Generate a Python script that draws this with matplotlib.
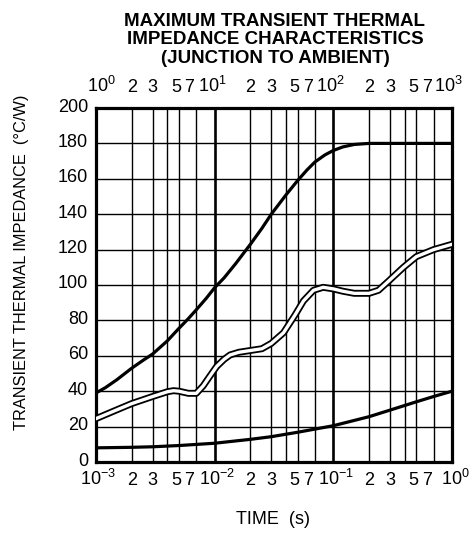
import numpy as np
import matplotlib
matplotlib.use("Agg")
import matplotlib.pyplot as plt
import matplotlib.transforms as mtransforms

plt.rcParams['font.family'] = ['Liberation Sans', 'DejaVu Sans']
plt.rcParams['mathtext.fontset'] = 'custom'
plt.rcParams['mathtext.rm'] = 'Liberation Sans'
plt.rcParams['mathtext.it'] = 'Liberation Sans'

# ---- data ----
upper_t = [1e-3, 1.2e-3, 1.5e-3, 2e-3, 2.5e-3, 3e-3, 4e-3, 5e-3, 6e-3, 7e-3, 8.5e-3,
           1e-2, 1.2e-2, 1.5e-2, 2e-2, 2.5e-2, 3e-2, 4e-2, 5e-2, 6e-2, 7e-2, 8.5e-2,
           1e-1, 1.2e-1, 1.5e-1, 2e-1, 3e-1, 5e-1, 1.0]
upper_z = [39, 42, 46.5, 53, 57.5, 61, 68.5, 75.5, 81, 86, 92.5,
           98.5, 104, 112, 123, 132, 140, 151, 159, 165, 169.5, 173.5,
           176, 178, 179.4, 180, 180, 180, 180]

middle_t = [1e-3, 1.5e-3, 2e-3, 3e-3, 4e-3, 4.5e-3, 5e-3, 6e-3, 7e-3, 8e-3, 9e-3,
            1.04e-2, 1.2e-2, 1.35e-2, 1.6e-2, 2e-2, 2.5e-2, 3e-2, 3.8e-2, 4.75e-2,
            5.6e-2, 6.8e-2, 8.2e-2, 1e-1, 1.2e-1, 1.5e-1, 2e-1, 2.4e-1, 2.9e-1,
            3.9e-1, 5e-1, 7e-1, 1.0]
middle_z = [24.5, 29.5, 33, 37, 39.7, 40.3, 40, 38.8, 38.8, 43, 48,
            54, 58, 60.5, 62, 63, 64, 67, 73, 83,
            91, 97, 98.7, 97.8, 96.5, 95.3, 95.3, 97, 102,
            110, 116, 120, 123]

lower_t = [1e-3, 2e-3, 3e-3, 5e-3, 1e-2, 2e-2, 3e-2, 5e-2, 1e-1, 2e-1, 3e-1, 5e-1, 7e-1, 1.0]
lower_z = [8, 8.3, 8.6, 9.3, 10.6, 12.8, 14.3, 16.8, 20.5, 25.6, 29.3, 34, 37, 40]

grid_mult = [2, 3, 4, 5, 7]
label_mult = [2, 3, 5, 7]
bottom_decades = [-3, -2, -1, 0]
top_decades = [0, 1, 2, 3]
y_ticks = [0, 20, 40, 60, 80, 100, 120, 140, 160, 180, 200]

# ---- figure ----
W, H = 477, 535
fig = plt.figure(figsize=(W/100, H/100), dpi=100)
ax = fig.add_axes([96/W, 1-462/H, (452-96)/W, (462-108)/H])
ax.set_xscale('log')
ax.set_xlim(1e-3, 1.0)
ax.set_ylim(0, 200)

# grid
for d in bottom_decades[:-1]:
    for m in grid_mult:
        ax.axvline(m * 10.0**d, color='black', lw=1.0, zorder=1)
for d in bottom_decades[1:-1]:
    ax.axvline(10.0**d, color='black', lw=1.9, zorder=1)
for y in y_ticks[1:-1]:
    ax.axhline(y, color='black', lw=1.0, zorder=1)

# curves
ax.plot(upper_t, upper_z, color='black', lw=2.3, zorder=3, solid_joinstyle='round')
ax.plot(lower_t, lower_z, color='black', lw=2.3, zorder=3, solid_joinstyle='round')
ax.plot(middle_t, middle_z, color='black', lw=5.0, zorder=3, solid_joinstyle='round')
ax.plot(middle_t, middle_z, color='white', lw=2.4, zorder=4, solid_joinstyle='round')

ax.set_xticks([])
ax.set_yticks([])
ax.xaxis.set_minor_locator(matplotlib.ticker.NullLocator())
ax.yaxis.set_minor_locator(matplotlib.ticker.NullLocator())
for s in ax.spines.values():
    s.set_linewidth(2.3)

# y tick labels
ytr = mtransforms.offset_copy(ax.get_yaxis_transform(), fig=fig, x=-8, y=1, units='dots')
for v in y_ticks:
    ax.text(0, v, str(v), transform=ytr, ha='right', va='center', fontsize=13, clip_on=False)

# x tick labels (bottom and top), placed along the log scale
def decade_label(d):
    return r'$\mathregular{10^{%s}}$' % (('\u2212%d' % -d) if d < 0 else '%d' % d)

mult_dx = {2: 0, 3: 0, 5: -3, 7: -7}

def put_labels(decades, scale_shift, y_axes, dy_px, dec_dx):
    base = ax.get_xaxis_transform()
    for i, d in enumerate(decades):
        x = 10.0**(d - scale_shift)
        tr = mtransforms.offset_copy(base, fig=fig, x=dec_dx[i], y=dy_px, units='dots')
        ax.text(x, y_axes, decade_label(d), transform=tr, ha='left', va='baseline',
                fontsize=13, clip_on=False)
        if i < len(decades) - 1:
            for m in label_mult:
                tr = mtransforms.offset_copy(base, fig=fig, x=mult_dx[m], y=dy_px, units='dots')
                ax.text(m * 10.0**(d - scale_shift), y_axes, str(m), transform=tr,
                        ha='center', va='baseline', fontsize=13, clip_on=False)

put_labels(bottom_decades, 0, 0.0, -23, [-16, -16, -15, -11])
put_labels(top_decades, 3, 1.0, 16, [-9, -17, -17, -18])

fig.text(21.5/W, 1-262/H, 'TRANSIENT THERMAL IMPEDANCE  (\u00b0C/W)', rotation=90,
         ha='center', va='center', fontsize=11.8)
fig.text(273/W, 1-520/H, 'TIME  (s)', ha='center', va='center', fontsize=13)
fig.text(275/W, 1-40/H,
         'MAXIMUM TRANSIENT THERMAL\nIMPEDANCE CHARACTERISTICS\n(JUNCTION TO AMBIENT)',
         ha='center', va='center', fontsize=13.5, fontweight='bold', linespacing=1.12)

fig.savefig('out.png', dpi=100)
